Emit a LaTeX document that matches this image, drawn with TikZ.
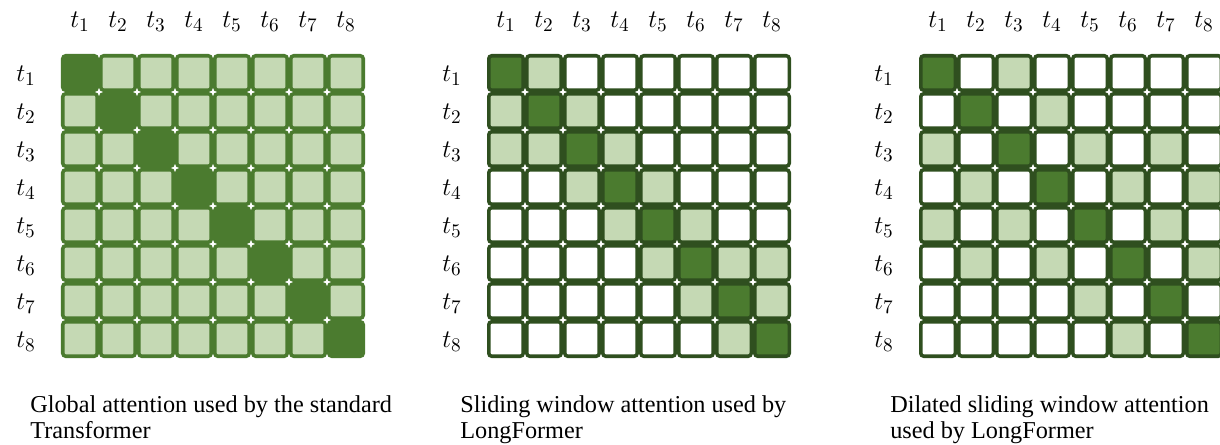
\documentclass[tikz,border=0pt]{standalone}
\usepackage{fontspec}
\setmainfont{Liberation Serif}
\usepackage{xcolor}
\usepackage{tikz}
\usetikzlibrary{positioning}

\definecolor{mossgreen}{HTML}{4B7B2F}
\definecolor{sagegreen}{HTML}{C5D9B4}
\definecolor{pinegreen}{HTML}{2F4F1F}

\begin{document}
\begin{tikzpicture}[
    x=0.02cm, y=-0.02cm,
    font=\fontsize{13.8}{14.9}\selectfont,
    cellbox/.style={rectangle, rounded corners=1.7pt, line width=2pt, minimum size=0.69cm, inner sep=0pt, outer sep=0pt},
    tlabel/.style={font=\fontsize{15.5}{18}\selectfont, inner sep=0pt},
    caption/.style={anchor=north west, align=left, inner sep=0pt},
]
    \path[use as bounding box] (0,0) rectangle (1220,445);
    \clip (0,0) rectangle (1220,445);

    % ===== PANEL A: Global attention =====
    \foreach \r in {1,...,8}{
        \foreach \c in {1,...,8}{
            \ifnum\r=\c \def\tint{mossgreen}\else\def\tint{sagegreen}\fi
            \node[cellbox, fill=\tint, draw=mossgreen] (g-\r-\c) at ({61+38*\c-19},{54+38*\r-19}) {};
        }
    }
    \foreach \c in {1,...,8}
        \node[tlabel] (gcol-\c) at ({61+38*\c-19},22) {$t_{\c}$};
    \foreach \r in {1,...,8}
        \node[tlabel] (grow-\r) at (26,{54+38*\r-16}) {$t_{\r}$};
    \node[caption] (gcap) at (30,395) {Global attention used by the standard\\Transformer};

    % ===== PANEL B: Sliding window =====
    \foreach \row [count=\r] in {{2,1,0,0,0,0,0,0},{1,2,1,0,0,0,0,0},{1,1,2,1,0,0,0,0},{0,0,1,2,1,0,0,0},
                                 {0,0,0,1,2,1,0,0},{0,0,0,0,1,2,1,1},{0,0,0,0,0,1,2,1},{0,0,0,0,0,0,1,2}}{
        \foreach \v [count=\c] in \row {
            \ifcase\v \def\tint{white}\or\def\tint{sagegreen}\or\def\tint{mossgreen}\fi
            \node[cellbox, fill=\tint, draw=pinegreen] (s-\r-\c) at ({487+38*\c-19},{54+38*\r-19}) {};
        }
    }
    \foreach \c in {1,...,8}
        \node[tlabel] (scol-\c) at ({487+38*\c-19},22) {$t_{\c}$};
    \foreach \r in {1,...,8}
        \node[tlabel] (srow-\r) at (452,{54+38*\r-16}) {$t_{\r}$};
    \node[caption] (scap) at (460,395) {Sliding window attention used by\\LongFormer};

    % ===== PANEL C: Dilated sliding window =====
    \foreach \row [count=\r] in {{2,0,1,0,0,0,0,0},{0,2,0,1,0,0,0,0},{1,0,2,0,1,0,1,0},{0,1,0,2,0,1,0,1},
                                 {1,0,1,0,2,0,1,0},{0,1,0,1,0,2,0,1},{0,0,0,0,1,0,2,0},{0,0,0,0,0,1,0,2}}{
        \foreach \v [count=\c] in \row {
            \ifcase\v \def\tint{white}\or\def\tint{sagegreen}\or\def\tint{mossgreen}\fi
            \node[cellbox, fill=\tint, draw=pinegreen] (d-\r-\c) at ({919+38*\c-19},{54+38*\r-19}) {};
        }
    }
    \foreach \c in {1,...,8}
        \node[tlabel] (dcol-\c) at ({919+38*\c-19},22) {$t_{\c}$};
    \foreach \r in {1,...,8}
        \node[tlabel] (drow-\r) at (884,{54+38*\r-16}) {$t_{\r}$};
    \node[caption] (dcap) at (890,395) {Dilated sliding window attention\\used by LongFormer};

\end{tikzpicture}
\end{document}
